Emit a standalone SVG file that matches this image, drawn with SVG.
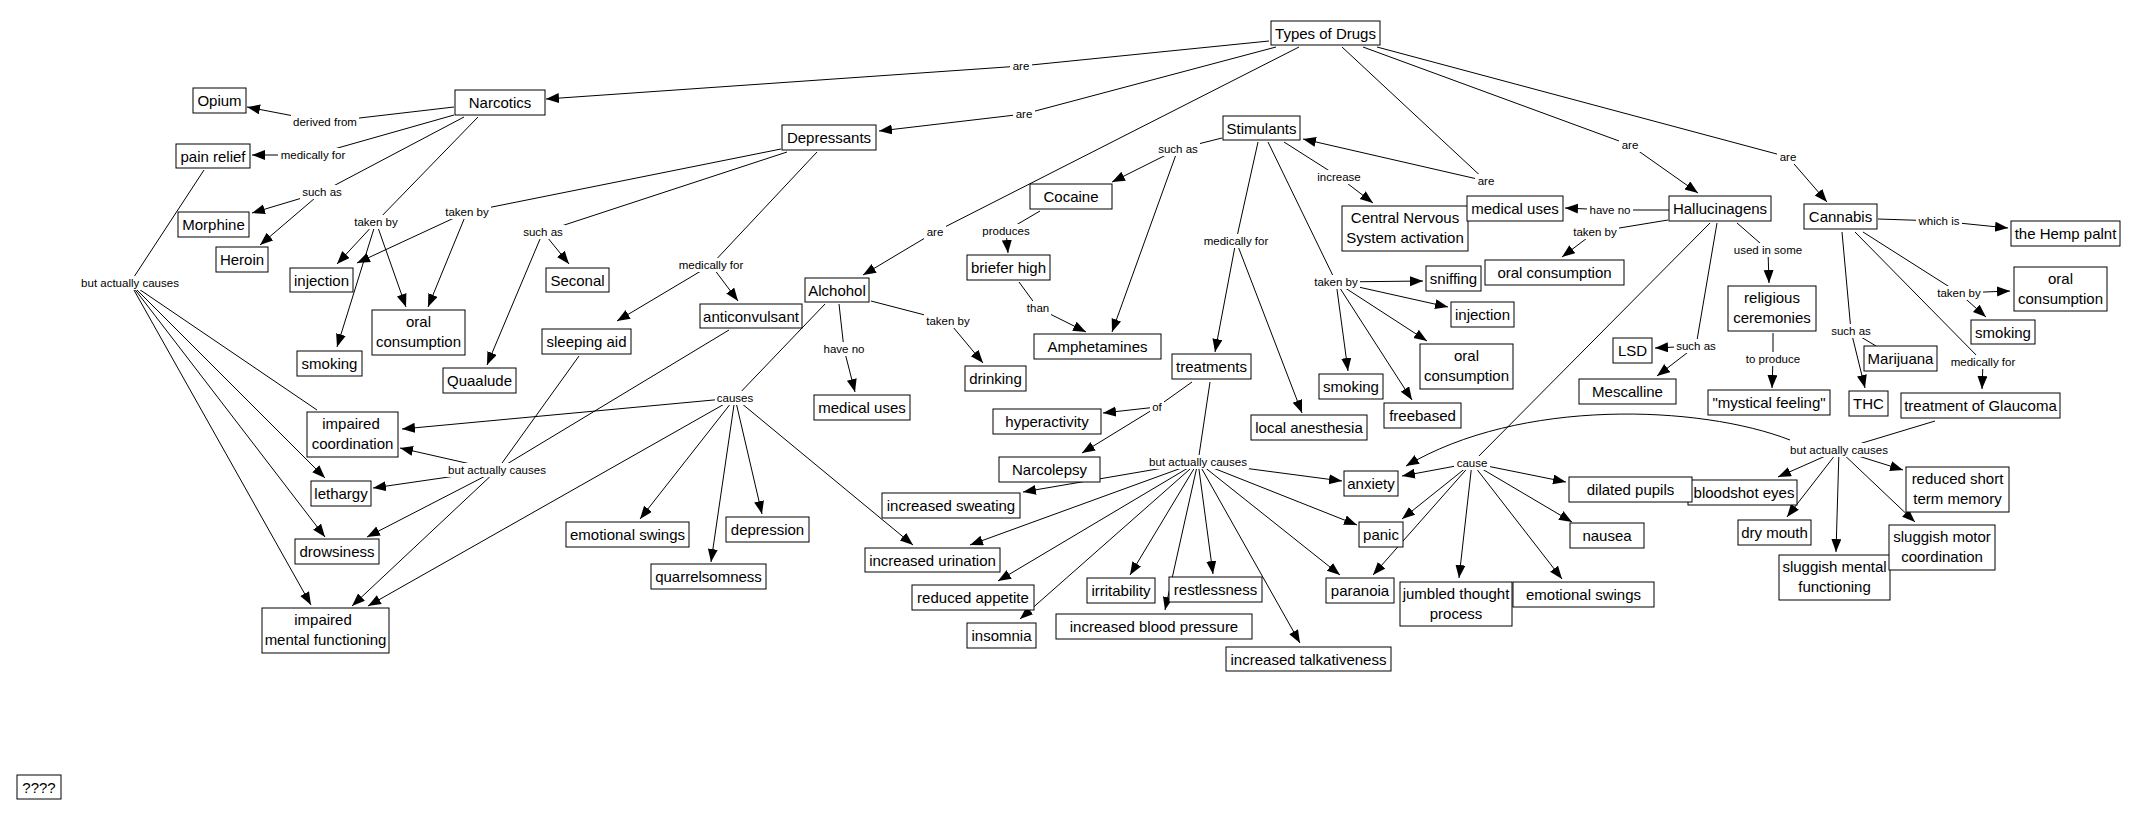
<svg xmlns="http://www.w3.org/2000/svg" width="2150" height="814" viewBox="0 0 2150 814">
<style>
.n rect{fill:#fff;stroke:#000;stroke-width:1}
.n text{font-family:"Liberation Sans",Arial,sans-serif;font-size:15px;text-anchor:middle;fill:#000}
.lb rect{fill:#fff;stroke:none}
.lb text{font-family:"Liberation Sans",Arial,sans-serif;font-size:11.5px;text-anchor:middle;fill:#000}
#conn line,#conn path{stroke:#000;stroke-width:1;fill:none}
#conn .a{marker-end:url(#ah)}
</style>
<defs>
<marker id="ah" markerUnits="userSpaceOnUse" markerWidth="14" markerHeight="12" refX="13" refY="5" orient="auto">
<path d="M0,0 L13,5 L0,10 z" fill="#000"/>
</marker>
</defs>
<rect width="2150" height="814" fill="#fff"/>
<g id="conn">
<line x1="1269" y1="41" x2="1021" y2="66"/>
<line x1="1276" y1="47" x2="1024" y2="114"/>
<line x1="1299" y1="47" x2="935" y2="232"/>
<line x1="1342" y1="47" x2="1486" y2="181"/>
<line x1="1363" y1="47" x2="1630" y2="145"/>
<line x1="1377" y1="47" x2="1788" y2="157"/>
<line x1="454" y1="107" x2="325" y2="122"/>
<line x1="454" y1="115" x2="313" y2="155"/>
<line x1="464" y1="117" x2="322" y2="192"/>
<line x1="478" y1="117" x2="376" y2="222"/>
<line x1="781" y1="149" x2="467" y2="212"/>
<line x1="787" y1="152" x2="543" y2="232"/>
<line x1="817" y1="152" x2="711" y2="265"/>
<line x1="204" y1="170" x2="130" y2="283"/>
<line x1="579" y1="356" x2="497" y2="470"/>
<line x1="729" y1="330" x2="497" y2="470"/>
<line x1="825" y1="304" x2="735" y2="398"/>
<line x1="839" y1="304" x2="844" y2="349"/>
<line x1="871" y1="301" x2="948" y2="321"/>
<line x1="1222" y1="138" x2="1178" y2="149"/>
<line x1="1040" y1="211" x2="1006" y2="231"/>
<line x1="1019" y1="282" x2="1038" y2="308"/>
<line x1="1284" y1="142" x2="1339" y2="177"/>
<line x1="1258" y1="142" x2="1236" y2="241"/>
<line x1="1268" y1="142" x2="1336" y2="282"/>
<line x1="1192" y1="382" x2="1157" y2="407"/>
<line x1="1210" y1="382" x2="1198" y2="462"/>
<line x1="1669" y1="210" x2="1610" y2="210"/>
<line x1="1668" y1="220" x2="1595" y2="232"/>
<line x1="1710" y1="223" x2="1472" y2="463"/>
<line x1="1717" y1="223" x2="1696" y2="346"/>
<line x1="1737" y1="223" x2="1768" y2="250"/>
<line x1="1773" y1="333" x2="1773" y2="359"/>
<line x1="1878" y1="219" x2="1939" y2="221"/>
<line x1="1842" y1="232" x2="1851" y2="331"/>
<line x1="1855" y1="232" x2="1983" y2="362"/>
<line x1="1863" y1="232" x2="1959" y2="293"/>
<line x1="1935" y1="421" x2="1839" y2="450"/>
<line x1="130" y1="283" x2="317" y2="410"/>
<line x1="1851" y1="331" x2="1876" y2="346"/>
<line class="a" x1="1021" y1="66" x2="546" y2="99"/>
<line class="a" x1="1024" y1="114" x2="879" y2="131"/>
<line class="a" x1="935" y1="232" x2="863" y2="275"/>
<line class="a" x1="1486" y1="181" x2="1303" y2="139"/>
<line class="a" x1="1630" y1="145" x2="1698" y2="193"/>
<line class="a" x1="1788" y1="157" x2="1827" y2="202"/>
<line class="a" x1="325" y1="122" x2="247" y2="107"/>
<line class="a" x1="313" y1="155" x2="252" y2="155"/>
<line class="a" x1="322" y1="192" x2="252" y2="213"/>
<line class="a" x1="322" y1="192" x2="260" y2="245"/>
<line class="a" x1="376" y1="222" x2="337" y2="264"/>
<line class="a" x1="376" y1="222" x2="337" y2="347"/>
<line class="a" x1="376" y1="222" x2="406" y2="307"/>
<line class="a" x1="467" y1="212" x2="357" y2="263"/>
<line class="a" x1="467" y1="212" x2="428" y2="307"/>
<line class="a" x1="543" y1="232" x2="487" y2="365"/>
<line class="a" x1="543" y1="232" x2="569" y2="264"/>
<line class="a" x1="711" y1="265" x2="617" y2="321"/>
<line class="a" x1="711" y1="265" x2="738" y2="301"/>
<line class="a" x1="130" y1="283" x2="325" y2="478"/>
<line class="a" x1="130" y1="283" x2="325" y2="537"/>
<line class="a" x1="130" y1="283" x2="311" y2="605"/>
<line class="a" x1="497" y1="470" x2="400" y2="448"/>
<line class="a" x1="497" y1="470" x2="373" y2="488"/>
<line class="a" x1="497" y1="470" x2="367" y2="537"/>
<line class="a" x1="497" y1="470" x2="352" y2="606"/>
<line class="a" x1="735" y1="398" x2="402" y2="429"/>
<line class="a" x1="735" y1="398" x2="368" y2="606"/>
<line class="a" x1="735" y1="398" x2="640" y2="519"/>
<line class="a" x1="735" y1="398" x2="711" y2="562"/>
<line class="a" x1="735" y1="398" x2="762" y2="514"/>
<line class="a" x1="735" y1="398" x2="913" y2="545"/>
<line class="a" x1="844" y1="349" x2="855" y2="392"/>
<line class="a" x1="948" y1="321" x2="983" y2="363"/>
<line class="a" x1="1178" y1="149" x2="1112" y2="182"/>
<line class="a" x1="1178" y1="149" x2="1112" y2="332"/>
<line class="a" x1="1006" y1="231" x2="1008" y2="253"/>
<line class="a" x1="1038" y1="308" x2="1086" y2="332"/>
<line class="a" x1="1339" y1="177" x2="1373" y2="203"/>
<line class="a" x1="1236" y1="241" x2="1215" y2="352"/>
<line class="a" x1="1236" y1="241" x2="1302" y2="413"/>
<line class="a" x1="1336" y1="282" x2="1423" y2="281"/>
<line class="a" x1="1336" y1="282" x2="1448" y2="307"/>
<line class="a" x1="1336" y1="282" x2="1427" y2="341"/>
<line class="a" x1="1336" y1="282" x2="1348" y2="371"/>
<line class="a" x1="1336" y1="282" x2="1412" y2="400"/>
<line class="a" x1="1157" y1="407" x2="1103" y2="413"/>
<line class="a" x1="1157" y1="407" x2="1082" y2="453"/>
<line class="a" x1="1198" y1="462" x2="1023" y2="492"/>
<line class="a" x1="1198" y1="462" x2="970" y2="545"/>
<line class="a" x1="1198" y1="462" x2="998" y2="581"/>
<line class="a" x1="1198" y1="462" x2="1020" y2="619"/>
<line class="a" x1="1198" y1="462" x2="1130" y2="575"/>
<line class="a" x1="1198" y1="462" x2="1165" y2="610"/>
<line class="a" x1="1198" y1="462" x2="1213" y2="574"/>
<line class="a" x1="1198" y1="462" x2="1300" y2="643"/>
<line class="a" x1="1198" y1="462" x2="1340" y2="575"/>
<line class="a" x1="1198" y1="462" x2="1357" y2="525"/>
<line class="a" x1="1198" y1="462" x2="1342" y2="481"/>
<line class="a" x1="1610" y1="210" x2="1565" y2="208"/>
<line class="a" x1="1595" y1="232" x2="1562" y2="257"/>
<line class="a" x1="1472" y1="463" x2="1402" y2="476"/>
<line class="a" x1="1472" y1="463" x2="1402" y2="519"/>
<line class="a" x1="1472" y1="463" x2="1373" y2="575"/>
<line class="a" x1="1472" y1="463" x2="1459" y2="578"/>
<line class="a" x1="1472" y1="463" x2="1562" y2="579"/>
<line class="a" x1="1472" y1="463" x2="1572" y2="522"/>
<line class="a" x1="1472" y1="463" x2="1566" y2="482"/>
<line class="a" x1="1696" y1="346" x2="1655" y2="348"/>
<line class="a" x1="1696" y1="346" x2="1657" y2="376"/>
<line class="a" x1="1768" y1="250" x2="1769" y2="283"/>
<line class="a" x1="1773" y1="359" x2="1772" y2="388"/>
<line class="a" x1="1939" y1="221" x2="2008" y2="228"/>
<line class="a" x1="1851" y1="331" x2="1865" y2="388"/>
<line class="a" x1="1983" y1="362" x2="1982" y2="389"/>
<line class="a" x1="1959" y1="293" x2="2010" y2="291"/>
<line class="a" x1="1959" y1="293" x2="1986" y2="317"/>
<line class="a" x1="1839" y1="450" x2="1778" y2="477"/>
<line class="a" x1="1839" y1="450" x2="1787" y2="517"/>
<line class="a" x1="1839" y1="450" x2="1836" y2="552"/>
<line class="a" x1="1839" y1="450" x2="1915" y2="522"/>
<line class="a" x1="1839" y1="450" x2="1903" y2="470"/>
<path class="a" d="M1790,440 C1700,405 1520,398 1406,466"/>
</g>
<g id="labels">
<g class="lb"><rect x="1010" y="59" width="22" height="14"/><text x="1021" y="70">are</text></g>
<g class="lb"><rect x="1013" y="107" width="22" height="14"/><text x="1024" y="118">are</text></g>
<g class="lb"><rect x="924" y="225" width="22" height="14"/><text x="935" y="236">are</text></g>
<g class="lb"><rect x="1475" y="174" width="22" height="14"/><text x="1486" y="185">are</text></g>
<g class="lb"><rect x="1619" y="138" width="22" height="14"/><text x="1630" y="149">are</text></g>
<g class="lb"><rect x="1777" y="150" width="22" height="14"/><text x="1788" y="161">are</text></g>
<g class="lb"><rect x="291" y="115" width="68" height="14"/><text x="325" y="126">derived from</text></g>
<g class="lb"><rect x="278" y="148" width="70" height="14"/><text x="313" y="159">medically for</text></g>
<g class="lb"><rect x="300" y="185" width="44" height="14"/><text x="322" y="196">such as</text></g>
<g class="lb"><rect x="352" y="215" width="48" height="14"/><text x="376" y="226">taken by</text></g>
<g class="lb"><rect x="443" y="205" width="48" height="14"/><text x="467" y="216">taken by</text></g>
<g class="lb"><rect x="521" y="225" width="44" height="14"/><text x="543" y="236">such as</text></g>
<g class="lb"><rect x="676" y="258" width="70" height="14"/><text x="711" y="269">medically for</text></g>
<g class="lb"><rect x="79" y="276" width="102" height="14"/><text x="130" y="287">but actually causes</text></g>
<g class="lb"><rect x="446" y="463" width="102" height="14"/><text x="497" y="474">but actually causes</text></g>
<g class="lb"><rect x="715" y="391" width="40" height="14"/><text x="735" y="402">causes</text></g>
<g class="lb"><rect x="821" y="342" width="46" height="14"/><text x="844" y="353">have no</text></g>
<g class="lb"><rect x="924" y="314" width="48" height="14"/><text x="948" y="325">taken by</text></g>
<g class="lb"><rect x="1156" y="142" width="44" height="14"/><text x="1178" y="153">such as</text></g>
<g class="lb"><rect x="980" y="224" width="52" height="14"/><text x="1006" y="235">produces</text></g>
<g class="lb"><rect x="1025" y="301" width="26" height="14"/><text x="1038" y="312">than</text></g>
<g class="lb"><rect x="1315" y="170" width="48" height="14"/><text x="1339" y="181">increase</text></g>
<g class="lb"><rect x="1201" y="234" width="70" height="14"/><text x="1236" y="245">medically for</text></g>
<g class="lb"><rect x="1312" y="275" width="48" height="14"/><text x="1336" y="286">taken by</text></g>
<g class="lb"><rect x="1150" y="400" width="14" height="14"/><text x="1157" y="411">of</text></g>
<g class="lb"><rect x="1147" y="455" width="102" height="14"/><text x="1198" y="466">but actually causes</text></g>
<g class="lb"><rect x="1587" y="203" width="46" height="14"/><text x="1610" y="214">have no</text></g>
<g class="lb"><rect x="1571" y="225" width="48" height="14"/><text x="1595" y="236">taken by</text></g>
<g class="lb"><rect x="1454" y="456" width="36" height="14"/><text x="1472" y="467">cause</text></g>
<g class="lb"><rect x="1674" y="339" width="44" height="14"/><text x="1696" y="350">such as</text></g>
<g class="lb"><rect x="1732" y="243" width="72" height="14"/><text x="1768" y="254">used in some</text></g>
<g class="lb"><rect x="1744" y="352" width="58" height="14"/><text x="1773" y="363">to produce</text></g>
<g class="lb"><rect x="1916" y="214" width="46" height="14"/><text x="1939" y="225">which is</text></g>
<g class="lb"><rect x="1829" y="324" width="44" height="14"/><text x="1851" y="335">such as</text></g>
<g class="lb"><rect x="1948" y="355" width="70" height="14"/><text x="1983" y="366">medically for</text></g>
<g class="lb"><rect x="1935" y="286" width="48" height="14"/><text x="1959" y="297">taken by</text></g>
<g class="lb"><rect x="1788" y="443" width="102" height="14"/><text x="1839" y="454">but actually causes</text></g>
</g>
<g id="nodes">
<g id="n-types" class="n"><rect x="1271" y="21" width="109" height="24"/><text x="1325.5" y="38.5">Types of Drugs</text></g>
<g id="n-narcotics" class="n"><rect x="455" y="90" width="90" height="25"/><text x="500" y="107.5">Narcotics</text></g>
<g id="n-opium" class="n"><rect x="193" y="88" width="53" height="25"/><text x="219.5" y="105.5">Opium</text></g>
<g id="n-pain" class="n"><rect x="176" y="144" width="74" height="24"/><text x="213" y="161.5">pain relief</text></g>
<g id="n-morphine" class="n"><rect x="178" y="212" width="71" height="25"/><text x="213.5" y="229.5">Morphine</text></g>
<g id="n-heroin" class="n"><rect x="216" y="247" width="52" height="25"/><text x="242" y="264.5">Heroin</text></g>
<g id="n-inj1" class="n"><rect x="290" y="268" width="63" height="24"/><text x="321.5" y="285.5">injection</text></g>
<g id="n-oral1" class="n"><rect x="372" y="310" width="93" height="45"/><text x="418.5" y="327">oral</text><text x="418.5" y="346.5">consumption</text></g>
<g id="n-smoke1" class="n"><rect x="297" y="351" width="65" height="25"/><text x="329.5" y="368.5">smoking</text></g>
<g id="n-quaalude" class="n"><rect x="443" y="368" width="73" height="25"/><text x="479.5" y="385.5">Quaalude</text></g>
<g id="n-seconal" class="n"><rect x="546" y="268" width="63" height="24"/><text x="577.5" y="285.5">Seconal</text></g>
<g id="n-depressants" class="n"><rect x="782" y="125" width="94" height="25"/><text x="829" y="142.5">Depressants</text></g>
<g id="n-sleeping" class="n"><rect x="542" y="329" width="89" height="25"/><text x="586.5" y="346.5">sleeping aid</text></g>
<g id="n-anticonv" class="n"><rect x="700" y="304" width="102" height="24"/><text x="751" y="321.5">anticonvulsant</text></g>
<g id="n-alchohol" class="n"><rect x="805" y="278" width="64" height="24"/><text x="837" y="295.5">Alchohol</text></g>
<g id="n-meduses1" class="n"><rect x="814" y="395" width="96" height="25"/><text x="862" y="412.5">medical uses</text></g>
<g id="n-drinking" class="n"><rect x="965" y="366" width="61" height="25"/><text x="995.5" y="383.5">drinking</text></g>
<g id="n-impcoord" class="n"><rect x="307" y="412" width="91" height="45"/><text x="351" y="429">impaired</text><text x="352.5" y="448.5">coordination</text></g>
<g id="n-lethargy" class="n"><rect x="311" y="481" width="60" height="25"/><text x="341" y="498.5">lethargy</text></g>
<g id="n-drowsiness" class="n"><rect x="295" y="539" width="84" height="25"/><text x="337" y="556.5">drowsiness</text></g>
<g id="n-impmental" class="n"><rect x="262" y="608" width="127" height="45"/><text x="323" y="625">impaired</text><text x="325.5" y="644.5">mental functioning</text></g>
<g id="n-emo1" class="n"><rect x="566" y="522" width="123" height="25"/><text x="627.5" y="539.5">emotional swings</text></g>
<g id="n-quarrel" class="n"><rect x="651" y="564" width="115" height="25"/><text x="708.5" y="581.5">quarrelsomness</text></g>
<g id="n-depression" class="n"><rect x="726" y="517" width="83" height="25"/><text x="767.5" y="534.5">depression</text></g>
<g id="n-urination" class="n"><rect x="865" y="548" width="135" height="24"/><text x="932.5" y="565.5">increased urination</text></g>
<g id="n-cocaine" class="n"><rect x="1030" y="184" width="82" height="25"/><text x="1071" y="201.5">Cocaine</text></g>
<g id="n-briefer" class="n"><rect x="967" y="255" width="83" height="25"/><text x="1008.5" y="272.5">briefer high</text></g>
<g id="n-amphet" class="n"><rect x="1034" y="334" width="127" height="25"/><text x="1097.5" y="351.5">Amphetamines</text></g>
<g id="n-stimulants" class="n"><rect x="1223" y="116" width="77" height="24"/><text x="1261.5" y="133.5">Stimulants</text></g>
<g id="n-cns" class="n"><rect x="1342" y="206" width="126" height="45"/><text x="1405" y="223">Central Nervous</text><text x="1405" y="242.5">System activation</text></g>
<g id="n-meduses2" class="n"><rect x="1467" y="196" width="96" height="25"/><text x="1515" y="213.5">medical uses</text></g>
<g id="n-treatments" class="n"><rect x="1172" y="354" width="79" height="25"/><text x="1211.5" y="371.5">treatments</text></g>
<g id="n-hyper" class="n"><rect x="993" y="409" width="108" height="25"/><text x="1047" y="426.5">hyperactivity</text></g>
<g id="n-narco" class="n"><rect x="999" y="457" width="101" height="25"/><text x="1049.5" y="474.5">Narcolepsy</text></g>
<g id="n-localan" class="n"><rect x="1251" y="415" width="116" height="25"/><text x="1309" y="432.5">local anesthesia</text></g>
<g id="n-smoke2" class="n"><rect x="1319" y="374" width="64" height="25"/><text x="1351" y="391.5">smoking</text></g>
<g id="n-freebased" class="n"><rect x="1384" y="403" width="77" height="25"/><text x="1422.5" y="420.5">freebased</text></g>
<g id="n-sniffing" class="n"><rect x="1426" y="266" width="55" height="25"/><text x="1453.5" y="283.5">sniffing</text></g>
<g id="n-inj2" class="n"><rect x="1451" y="302" width="63" height="25"/><text x="1482.5" y="319.5">injection</text></g>
<g id="n-oral2" class="n"><rect x="1420" y="344" width="93" height="45"/><text x="1466.5" y="361">oral</text><text x="1466.5" y="380.5">consumption</text></g>
<g id="n-sweating" class="n"><rect x="882" y="493" width="138" height="25"/><text x="951" y="510.5">increased sweating</text></g>
<g id="n-appetite" class="n"><rect x="912" y="585" width="122" height="25"/><text x="973" y="602.5">reduced appetite</text></g>
<g id="n-insomnia" class="n"><rect x="967" y="623" width="69" height="25"/><text x="1001.5" y="640.5">insomnia</text></g>
<g id="n-irrit" class="n"><rect x="1087" y="578" width="68" height="25"/><text x="1121" y="595.5">irritability</text></g>
<g id="n-bp" class="n"><rect x="1056" y="614" width="196" height="25"/><text x="1154" y="631.5">increased blood pressure</text></g>
<g id="n-restless" class="n"><rect x="1169" y="577" width="93" height="25"/><text x="1215.5" y="594.5">restlessness</text></g>
<g id="n-talk" class="n"><rect x="1226" y="647" width="165" height="24"/><text x="1308.5" y="664.5">increased talkativeness</text></g>
<g id="n-anxiety" class="n"><rect x="1344" y="471" width="54" height="25"/><text x="1371" y="488.5">anxiety</text></g>
<g id="n-panic" class="n"><rect x="1359" y="522" width="44" height="25"/><text x="1381" y="539.5">panic</text></g>
<g id="n-paranoia" class="n"><rect x="1326" y="578" width="68" height="25"/><text x="1360" y="595.5">paranoia</text></g>
<g id="n-jumbled" class="n"><rect x="1400" y="582" width="112" height="44"/><text x="1456" y="599">jumbled thought</text><text x="1456" y="618.5">process</text></g>
<g id="n-emo2" class="n"><rect x="1513" y="582" width="141" height="25"/><text x="1583.5" y="599.5">emotional swings</text></g>
<g id="n-nausea" class="n"><rect x="1570" y="523" width="74" height="25"/><text x="1607" y="540.5">nausea</text></g>
<g id="n-bloodshot" class="n"><rect x="1688" y="480" width="109" height="25"/><text x="1744" y="497.5">bloodshot eyes</text></g>
<g id="n-dilated" class="n"><rect x="1569" y="477" width="123" height="25"/><text x="1630.5" y="494.5">dilated pupils</text></g>
<g id="n-halluc" class="n"><rect x="1669" y="196" width="102" height="25"/><text x="1720" y="213.5">Hallucinagens</text></g>
<g id="n-oral3" class="n"><rect x="1485" y="260" width="139" height="25"/><text x="1554.5" y="277.5">oral consumption</text></g>
<g id="n-lsd" class="n"><rect x="1613" y="338" width="39" height="25"/><text x="1632.5" y="355.5">LSD</text></g>
<g id="n-mescal" class="n"><rect x="1579" y="379" width="97" height="25"/><text x="1627.5" y="396.5">Mescalline</text></g>
<g id="n-religious" class="n"><rect x="1728" y="286" width="88" height="45"/><text x="1772" y="303">religious</text><text x="1772" y="322.5">ceremonies</text></g>
<g id="n-mystical" class="n"><rect x="1708" y="390" width="122" height="25"/><text x="1769" y="407.5">"mystical feeling"</text></g>
<g id="n-cannabis" class="n"><rect x="1804" y="204" width="73" height="25"/><text x="1840.5" y="221.5">Cannabis</text></g>
<g id="n-hemp" class="n"><rect x="2011" y="221" width="109" height="25"/><text x="2065.5" y="238.5">the Hemp palnt</text></g>
<g id="n-oral4" class="n"><rect x="2014" y="267" width="93" height="44"/><text x="2060.5" y="284">oral</text><text x="2060.5" y="303.5">consumption</text></g>
<g id="n-smoke3" class="n"><rect x="1971" y="320" width="64" height="24"/><text x="2003" y="337.5">smoking</text></g>
<g id="n-marijuana" class="n"><rect x="1864" y="346" width="73" height="25"/><text x="1900.5" y="363.5">Marijuana</text></g>
<g id="n-thc" class="n"><rect x="1849" y="391" width="39" height="25"/><text x="1868.5" y="408.5">THC</text></g>
<g id="n-glaucoma" class="n"><rect x="1901" y="393" width="159" height="25"/><text x="1980.5" y="410.5">treatment of Glaucoma</text></g>
<g id="n-drymouth" class="n"><rect x="1738" y="520" width="73" height="25"/><text x="1774.5" y="537.5">dry mouth</text></g>
<g id="n-slugmental" class="n"><rect x="1779" y="555" width="111" height="45"/><text x="1834.5" y="572">sluggish mental</text><text x="1834.5" y="591.5">functioning</text></g>
<g id="n-slugmotor" class="n"><rect x="1889" y="525" width="106" height="45"/><text x="1942" y="542">sluggish motor</text><text x="1942" y="561.5">coordination</text></g>
<g id="n-stm" class="n"><rect x="1906" y="467" width="103" height="45"/><text x="1957.5" y="484">reduced short</text><text x="1957.5" y="503.5">term memory</text></g>
<g id="n-unknown" class="n"><rect x="17" y="775" width="44" height="24"/><text x="39" y="792.5">????</text></g>
</g>
</svg>
